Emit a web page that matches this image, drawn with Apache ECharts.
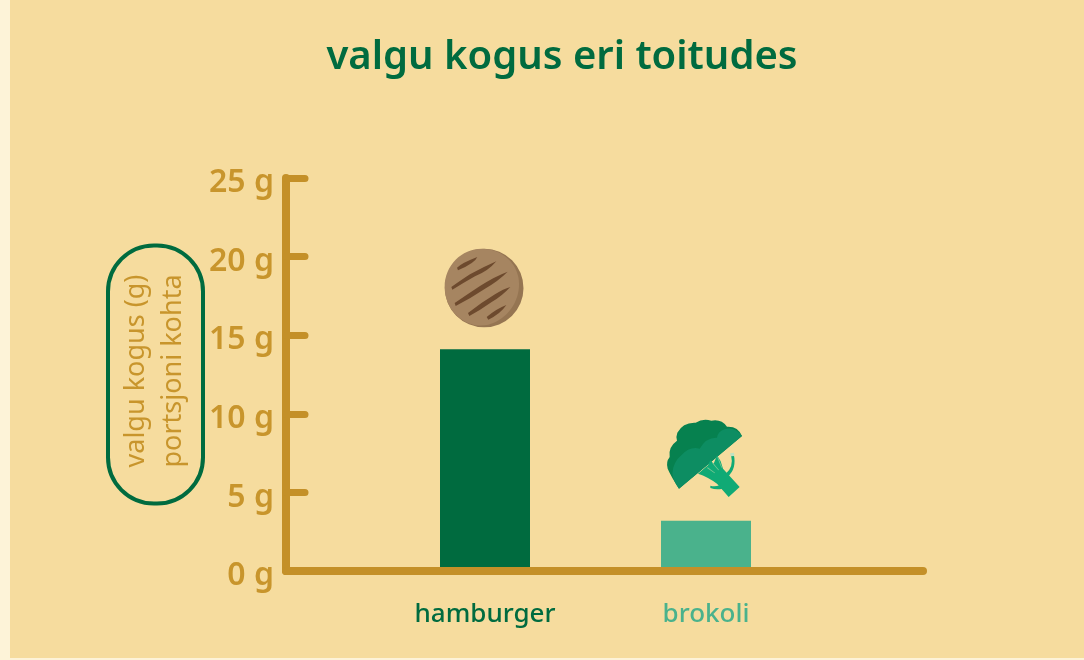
<!DOCTYPE html>
<html>
<head>
<meta charset="utf-8">
<title>valgu kogus eri toitudes</title>
<script src="https://cdn.jsdelivr.net/npm/echarts@6/dist/echarts.min.js"></script>
<style>
  html, body { margin: 0; height: 100%; background: #fdf3d8; overflow: hidden; }
  #panel { position: absolute; left: 10px; top: 0; width: 1074px; height: 658px; background: #f6dc9e; }
  #chart { position: absolute; left: 0; top: 0; width: 1084px; height: 660px; }
</style>
</head>
<body>
<div id="panel"></div>
<div id="chart"></div>
<script>
const titleText = 'valgu kogus eri toitudes'
const yName = 'valgu kogus (g)\nportsjoni kohta'
const categories = ['hamburger', 'brokoli']
const values = [14.1, 3.2]
const barColors = ['#006b3f', '#4ab28c']
const icons = ['burger', 'broccoli']

const GOLD = '#c49028'
const FONT = '"Noto Sans", sans-serif'

// icon shapes, traced at 3x from the picture; ox/oy is the top middle of the bar below
const iconShapes = {
  burger: {
    ox: 195, oy: 357,
    paths: [
      ['M193 55A118 118 0 1 1 192 55Z', '#957552'],
      ['M185 55C240 55 285 90 295 140C305 190 280 250 225 276C205 286 175 290 150 280C100 262 74 215 74 170C74 105 125 55 185 55Z', '#a68561'],
      ['M111 112Q125 98 172 80Q165 98 114 120Z', '#6d4a2e'],
      ['M94 170Q130 145 150 132Q190 110 229 93Q205 122 165 138Q130 158 97 178Z', '#6d4a2e'],
      ['M104 218Q145 190 180 167Q225 138 263 124Q235 152 195 175Q150 205 107 227Z', '#6d4a2e'],
      ['M144 248Q185 216 225 192Q250 176 271 170Q245 198 215 215Q180 240 148 257Z', '#6d4a2e'],
      ['M200 260Q228 236 259 224Q242 250 205 268Z', '#6d4a2e']
    ]
  },
  broccoli: {
    ox: 199, oy: 346,
    paths: [
      ['M307 92Q295 62 262 64Q245 40 215 46Q190 38 168 52Q130 50 113 82Q108 95 112 106Q85 125 90 155Q78 170 84 190Q95 215 118 250Z', '#06814f'],
      ['M118 250L307 92Q285 62 255 72Q235 78 232 97Q200 95 180 130Q150 122 125 150Q100 170 98 205Q100 225 118 250Z', '#0d8d62'],
      ['M175 205L205 180L212 165L222 175L232 150L243 168L250 190L300 245L267 275L232 235Q205 215 175 205Z', '#10aa75'],
      ['M258 205Q283 185 274 148L282 146Q292 190 264 214Z', '#10aa75'],
      ['M240 240Q225 245 212 241L212 248Q230 254 248 250Z', '#10aa75'],
      ['M204 186L226 202L225 204L202 188Z', '#7cc794'],
      ['M220 172L238 194L236 195L218 174Z', '#7cc794'],
      ['M235 155L247 186L245 187L233 156Z', '#7cc794'],
      ['M271 144L283 142L284 152L273 153Z', '#bfe2c0']
    ]
  }
}

const chart = echarts.init(document.getElementById('chart'))

chart.setOption({
  backgroundColor: 'transparent',
  animation: false,
  title: {
    text: titleText,
    left: 557,
    top: 33,
    textAlign: 'center',
    textStyle: { color: '#006b3f', fontFamily: FONT, fontSize: 40, fontWeight: 600 }
  },
  grid: [
    { left: 286, right: 161, top: 178, bottom: 89 },
    { left: 374.5, width: 442, top: 178, bottom: 89 }
  ],
  xAxis: [
    {
      gridIndex: 0,
      type: 'category',
      data: [],
      z: 5,
      axisLine: { lineStyle: { color: GOLD, width: 8, cap: 'round' } },
      axisTick: { show: false },
      axisLabel: { show: false }
    },
    {
      gridIndex: 1,
      type: 'category',
      data: categories.map((c, i) => ({ value: c, textStyle: { color: barColors[i] } })),
      axisLine: { show: false },
      axisTick: { show: false },
      axisLabel: { margin: 31, fontFamily: FONT, fontSize: 26, fontWeight: 500 }
    }
  ],
  yAxis: [
    {
      gridIndex: 0,
      type: 'value',
      min: 0,
      max: 25,
      interval: 5,
      z: 5,
      name: yName,
      nameLocation: 'middle',
      nameRotate: 90,
      nameGap: 83,
      nameMoveOverlap: false,
      nameTextStyle: {
        color: '#c8952c',
        fontFamily: FONT,
        fontSize: 27,
        lineHeight: 37,
        align: 'center',
        borderColor: '#006b3f',
        borderWidth: 4,
        borderRadius: 46,
        padding: [10, 29, 11, 36]
      },
      splitLine: { show: false },
      axisLine: { show: true, lineStyle: { color: GOLD, width: 8, cap: 'round' } },
      axisTick: { show: true, inside: true, length: 19, lineStyle: { color: GOLD, width: 7, cap: 'round' } },
      axisLabel: { margin: 12, color: '#c8952c', fontFamily: FONT, fontSize: 32, fontWeight: 600, verticalAlign: 'top', lineHeight: 10, formatter: '{value} g' }
    },
    {
      gridIndex: 1,
      type: 'value',
      min: 0,
      max: 25,
      show: false
    }
  ],
  series: [
    {
      type: 'bar',
      xAxisIndex: 1,
      yAxisIndex: 1,
      barWidth: 90,
      silent: true,
      data: values.map((v, i) => ({ value: v, itemStyle: { color: barColors[i] } }))
    },
    {
      type: 'custom',
      xAxisIndex: 1,
      yAxisIndex: 1,
      silent: true,
      data: values,
      renderItem: (params, api) => {
        const top = api.coord([params.dataIndex, api.value(1)])
        const shape = iconShapes[icons[params.dataIndex]]
        return {
          type: 'group',
          x: top[0],
          y: top[1],
          scaleX: 1 / 3,
          scaleY: 1 / 3,
          children: [{
            type: 'group',
            x: -shape.ox,
            y: -shape.oy,
            children: shape.paths.map(([d, fill]) => ({
              type: 'path',
              shape: { pathData: d },
              style: { fill }
            }))
          }]
        }
      }
    }
  ]
})
</script>
</body>
</html>
